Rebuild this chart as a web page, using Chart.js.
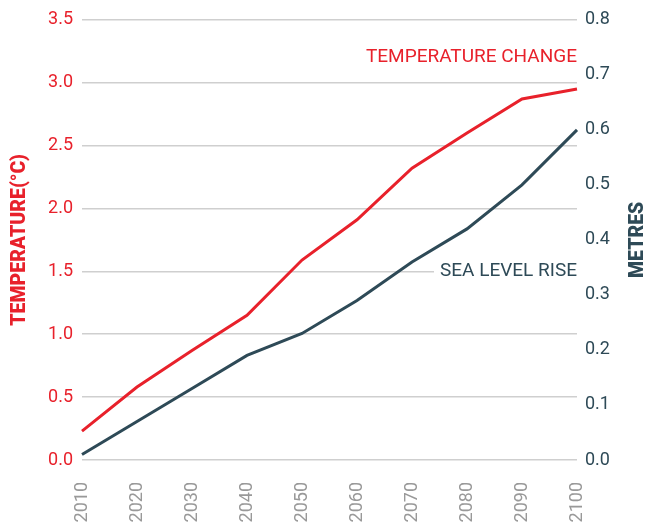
<!DOCTYPE html>
<html lang="en">
<head>
  <meta charset="UTF-8">
  <title>Temperature and sea level</title>
  <style>
    html, body { margin: 0; padding: 0; background: #ffffff; }
    #wrap { width: 654px; height: 522px; }
  </style>
</head>
<body>
  <div id="wrap"><canvas id="climateChart" width="654" height="522"></canvas></div>
  <script src="https://cdn.jsdelivr.net/npm/chart.js"></script>
  <script>
    // chart data
    const years = ['2010', '2020', '2030', '2040', '2050', '2060', '2070', '2080', '2090', '2100']
    const temperature = [0.23, 0.58, 0.87, 1.15, 1.59, 1.91, 2.32, 2.60, 2.87, 2.95]
    const seaLevel = [0.01, 0.07, 0.13, 0.19, 0.23, 0.29, 0.36, 0.42, 0.50, 0.60]

    const RED = '#e8212b'
    const SLATE = '#2e4a57'
    const FONT = 'Roboto, "Noto Sans", sans-serif'

    // axis titles and series labels
    const labelPlugin = {
      id: 'labels',
      afterDraw(chart) {
        const ctx = chart.ctx
        const area = chart.chartArea
        const yT = chart.scales.y
        const yS = chart.scales.y1
        const midY = (area.top + area.bottom) / 2

        ctx.save()
        ctx.textAlign = 'center'
        ctx.textBaseline = 'middle'
        ctx.font = '900 19.5px ' + FONT

        ctx.fillStyle = RED
        ctx.save()
        ctx.translate(20, midY)
        ctx.rotate(-Math.PI / 2)
        ctx.fillText('TEMPERATURE(°C)', 0, 0)
        ctx.restore()

        ctx.fillStyle = SLATE
        ctx.save()
        ctx.translate(638, midY)
        ctx.rotate(-Math.PI / 2)
        ctx.fillText('METRES', 0, 0)
        ctx.restore()

        ctx.font = '19px ' + FONT
        ctx.textAlign = 'right'

        ctx.fillStyle = RED
        ctx.fillText('TEMPERATURE CHANGE', area.right, yT.getPixelForValue(3.2))

        const seaText = 'SEA LEVEL RISE'
        const sy = yS.getPixelForValue(0.343)
        const w = ctx.measureText(seaText).width
        ctx.fillStyle = '#ffffff'
        ctx.fillRect(area.right - w - 6, sy - 11, w + 6, 22)
        ctx.fillStyle = SLATE
        ctx.fillText(seaText, area.right, sy)
        ctx.restore()
      }
    }

    new Chart(document.getElementById('climateChart'), {
      type: 'line',
      data: {
        labels: years,
        datasets: [{
          label: 'Temperature change',
          data: temperature,
          yAxisID: 'y',
          borderColor: RED,
          borderWidth: 3,
          pointRadius: 0,
          tension: 0,
          fill: false
        }, {
          label: 'Sea level rise',
          data: seaLevel,
          yAxisID: 'y1',
          borderColor: SLATE,
          borderWidth: 3,
          pointRadius: 0,
          tension: 0,
          fill: false
        }]
      },
      options: {
        responsive: false,
        animation: false,
        layout: { padding: { top: 17, left: 0, right: 0, bottom: 0 } },
        plugins: {
          legend: { display: false },
          tooltip: { enabled: false }
        },
        scales: {
          x: {
            offset: false,
            grid: { display: false },
            border: { display: false },
            ticks: {
              color: '#999999',
              font: { family: FONT, size: 18 },
              minRotation: 90,
              maxRotation: 90,
              padding: 14
            },
            afterFit(scale) { scale.height = 62 }
          },
          y: {
            position: 'left',
            min: 0,
            max: 3.5,
            ticks: {
              stepSize: 0.5,
              color: RED,
              font: { family: FONT, size: 18 },
              padding: 9,
              callback: v => v.toFixed(1)
            },
            grid: { color: '#cfcfcf', lineWidth: 1.5, drawTicks: false },
            border: { display: false },
            afterFit(scale) { scale.width = 82 }
          },
          y1: {
            position: 'right',
            min: 0,
            max: 0.8,
            ticks: {
              stepSize: 0.1,
              color: SLATE,
              font: { family: FONT, size: 18 },
              padding: 8,
              callback: v => v.toFixed(1)
            },
            grid: { display: false, drawTicks: false },
            border: { display: false },
            afterFit(scale) { scale.width = 77 }
          }
        }
      },
      plugins: [labelPlugin]
    })
  </script>
</body>
</html>
